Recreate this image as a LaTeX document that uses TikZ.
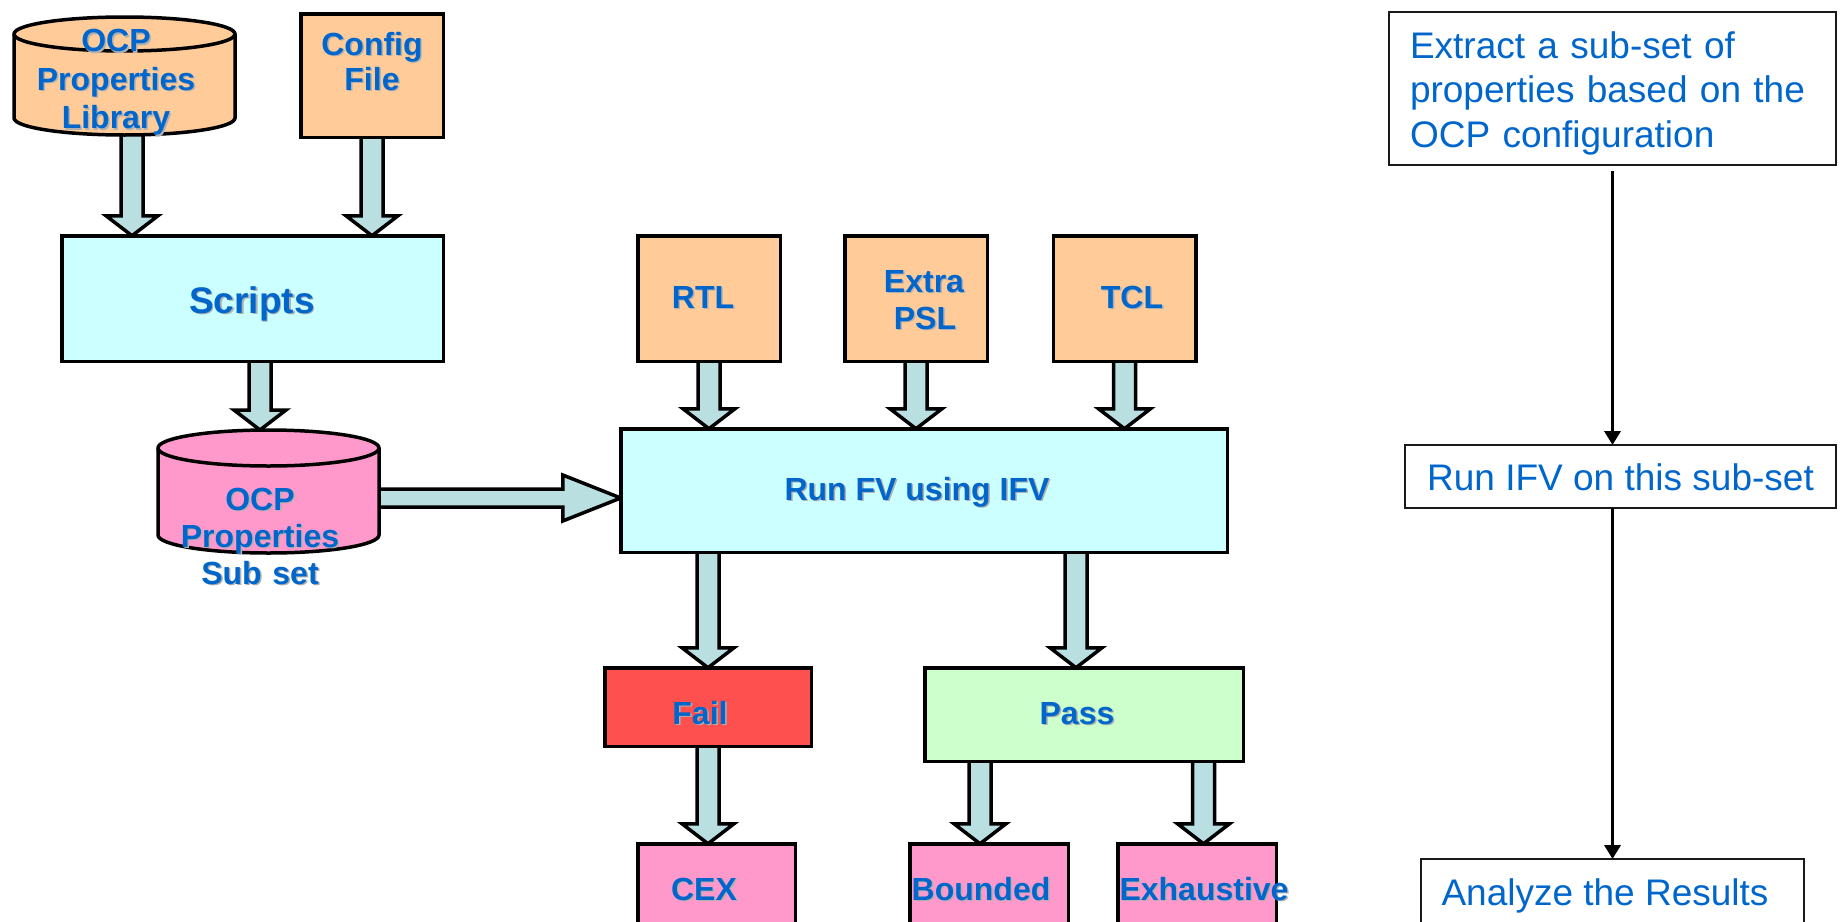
\documentclass[tikz,border=0pt]{standalone}
\usepackage{fontspec}
\setmainfont{Liberation Sans}
\usetikzlibrary{calc,arrows.meta,backgrounds}

\definecolor{txtblue}{HTML}{0066CC}
\definecolor{txtshadow}{HTML}{B0B0B0}
\definecolor{boxorange}{HTML}{FFCC99}
\definecolor{boxcyan}{HTML}{CCFFFF}
\definecolor{boxpink}{HTML}{FF99CC}
\definecolor{boxred}{HTML}{FF5050}
\definecolor{boxgreen}{HTML}{CCFFCC}
\definecolor{flowfill}{HTML}{B9DFE0}

% blue label text with a soft grey drop shadow
\newcommand\shtxt[1]{\rlap{\kern1.5pt\raisebox{-1.5pt}{\textcolor{txtshadow}{#1}}}\textcolor{txtblue}{#1}}
% one centred line of label text, nudged sideways by half of #1
\newcommand\tline[2]{\makebox[0pt]{\hspace*{#1}\shtxt{#2}}}

% wide block arrow pointing down, from #1 to the tip at #2
\newcommand\flowdown[2]{%
  \path[blockarrow] let \p1=(#1), \p2=(#2) in
    ({\x1-11pt},{\y1+6pt}) -- ({\x1-11pt},{\y2+20pt}) -- ({\x1-26pt},{\y2+20pt}) -- (\x1,\y2)
    -- ({\x1+26pt},{\y2+20pt}) -- ({\x1+11pt},{\y2+20pt}) -- ({\x1+11pt},{\y1+6pt}) -- cycle;}
% wide block arrow pointing right, from #1 to the tip at #2
\newcommand\flowright[2]{%
  \path[blockarrow] let \p1=(#1), \p2=(#2) in
    ({\x1-6pt},{\y1+9pt}) -- ({\x2-58pt},{\y1+9pt}) -- ({\x2-58pt},{\y1+23pt}) -- (\x2,\y1)
    -- ({\x2-58pt},{\y1-23pt}) -- ({\x2-58pt},{\y1-9pt}) -- ({\x1-6pt},{\y1-9pt}) -- cycle;}
% database cylinder filling the frame of node #1; radii #2, #3; fill #4
\newcommand\drawcyl[4]{%
  \draw[line width=3.5pt, fill=#4] let \p1=(#1.south west), \p2=(#1.north east) in
    (\x1,{\y2-#3}) -- (\x1,{\y1+#3}) arc[start angle=180, end angle=360, x radius=#2, y radius=#3]
    -- (\x2,{\y2-#3}) arc[start angle=0, end angle=180, x radius=#2, y radius=#3] -- cycle;
  \draw[line width=3.5pt] let \p1=(#1.south west), \p2=(#1.north east) in
    (\x1,{\y2-#3}) arc[start angle=180, end angle=360, x radius=#2, y radius=#3];}

\begin{document}
\begin{tikzpicture}[x=1pt,y=-1pt,
  flowbox/.style={draw=black, line width=3.5pt, rectangle, inner sep=0pt, outer sep=0pt,
    font=\fontsize{32}{37}\selectfont\bfseries},
  cylnode/.style={draw=none, rectangle, inner sep=0pt, outer sep=0pt,
    font=\fontsize{32}{37}\selectfont\bfseries},
  notebox/.style={draw=black!90, line width=2pt, rectangle, inner sep=0pt, outer sep=0pt,
    font=\fontsize{37}{44.5}\selectfont, text=txtblue},
  blockarrow/.style={fill=flowfill, draw=black, line width=3.5pt, miter limit=10},
  steparrow/.style={draw=black, line width=3.5pt, -{Triangle[length=14pt,width=16pt]}},
  multi/.style={text width=20pt, align=center}]

\useasboundingbox (0,0) rectangle (1841,921);
\clip (0,0) rectangle (1841,921);

% ---------- tool flow ----------
\node[cylnode, multi, minimum width=221pt, minimum height=118pt, text height=23pt, text depth=72pt,
  font=\fontsize{32}{38.5}\selectfont\bfseries]
  (ocplib) at (124.5,76) {\tline{-17pt}{OCP}\\\tline{-17pt}{Properties}\\\tline{-17pt}{Library}};
\node[flowbox, multi, fill=boxorange, minimum width=142.5pt, minimum height=123.5pt,
  text height=23pt, text depth=64pt, font=\fontsize{32}{35}\selectfont\bfseries]
  (config) at (372,75.5) {\tline{0pt}{Config}\\\tline{0pt}{File}};
\node[flowbox, fill=boxcyan, minimum width=381.5pt, minimum height=125.5pt,
  font=\fontsize{37}{42}\selectfont\bfseries, text height=29pt, text depth=0pt]
  (scripts) at (252.5,298.5) {\tline{-1pt}{Scripts}};
\node[cylnode, multi, minimum width=221pt, minimum height=123pt, text height=60pt, text depth=23pt]
  (subset) at (268.5,491.5) {\tline{-17pt}{OCP}\\\tline{-17pt}{Properties}\\\tline{-17pt}{Sub set}};

\node[flowbox, fill=boxorange, minimum width=142.5pt, minimum height=125.5pt,
  text height=23pt, text depth=4pt] (rtl) at (709,298.5) {\tline{-12pt}{RTL}};
\node[flowbox, multi, fill=boxorange, minimum width=142.5pt, minimum height=125.5pt,
  text height=23pt, text depth=36pt] (extra) at (916,298.5) {\tline{16pt}{Extra}\\\tline{18pt}{PSL}};
\node[flowbox, fill=boxorange, minimum width=142.5pt, minimum height=125.5pt,
  text height=23pt, text depth=4pt] (tcl) at (1124.5,298.5) {\tline{15pt}{TCL}};

\node[flowbox, fill=boxcyan, minimum width=606.5pt, minimum height=123.5pt,
  text height=23pt, text depth=4pt] (runfv) at (924,490.5) {\tline{-14pt}{Run FV using IFV}};

\node[flowbox, fill=boxred, minimum width=206.5pt, minimum height=78.5pt,
  text height=34pt, text depth=0pt] (fail) at (708,707) {\tline{-16pt}{Fail}};
\node[flowbox, fill=boxgreen, minimum width=318.5pt, minimum height=93.5pt,
  text height=23pt, text depth=4pt] (pass) at (1084,714.5) {\tline{-14pt}{Pass}};

\node[flowbox, fill=boxpink, minimum width=157.5pt, minimum height=89.5pt,
  text height=23pt, text depth=0pt] (cex) at (716.5,888.5) {\tline{-25pt}{CEX}};
\node[flowbox, fill=boxpink, minimum width=158.5pt, minimum height=89.5pt,
  text height=23pt, text depth=0pt] (bounded) at (989,888.5) {\tline{-16pt}{Bounded}};
\node[flowbox, fill=boxpink, minimum width=158.5pt, minimum height=89.5pt,
  text height=23pt, text depth=0pt] (exhaustive) at (1197,888.5) {\tline{14pt}{Exhaustive}};

% arrow columns that do not sit on a box centre
\coordinate (libx) at (132,0);
\coordinate (subx) at (260,0);
\coordinate (hrow) at (0,498);
\coordinate (passx) at (1076,0);
\coordinate (bndx) at (980,0);
\coordinate (exhx) at (1203.5,0);

\begin{pgfonlayer}{background}
  \flowdown{ocplib.south -| libx}{scripts.north -| libx}
  \flowdown{config.south}{scripts.north -| config.south}
  \flowdown{scripts.south -| subx}{subset.north -| subx}
  \flowdown{rtl.south}{runfv.north -| rtl.south}
  \flowdown{extra.south}{runfv.north -| extra.south}
  \flowdown{tcl.south}{runfv.north -| tcl.south}
  \flowdown{runfv.south -| fail.north}{fail.north}
  \flowdown{runfv.south -| passx}{pass.north -| passx}
  \flowdown{fail.south}{cex.north -| fail.south}
  \flowdown{pass.south -| bndx}{bounded.north -| bndx}
  \flowdown{pass.south -| exhx}{exhaustive.north -| exhx}
  \flowright{subset.east |- hrow}{runfv.west |- hrow}
  \drawcyl{ocplib}{110.5pt}{17pt}{boxorange}
  \drawcyl{subset}{110.5pt}{18pt}{boxpink}
\end{pgfonlayer}

% ---------- step summary ----------
\node[notebox, minimum width=447pt, minimum height=153pt, text width=405pt, align=left,
  text height=27pt, text depth=88pt]
  (extract) at (1612.5,88.5) {Extract a sub-set of\\properties based on the\\OCP configuration};
\node[notebox, minimum width=431pt, minimum height=63pt, text height=27pt, text depth=0pt]
  (runifv) at (1620.5,476.5) {Run IFV on this sub-set};
\node[notebox, minimum width=383pt, minimum height=73pt, text height=27pt, text depth=8pt]
  (analyze) at (1612.5,895.5) {\makebox[0pt]{\hspace*{-15pt}Analyze the Results}};

\draw[steparrow, shorten <=6pt] (extract.south) -- (extract.south |- runifv.north);
\draw[steparrow] (extract.south |- runifv.south) -- (extract.south |- analyze.north);
\end{tikzpicture}
\end{document}
